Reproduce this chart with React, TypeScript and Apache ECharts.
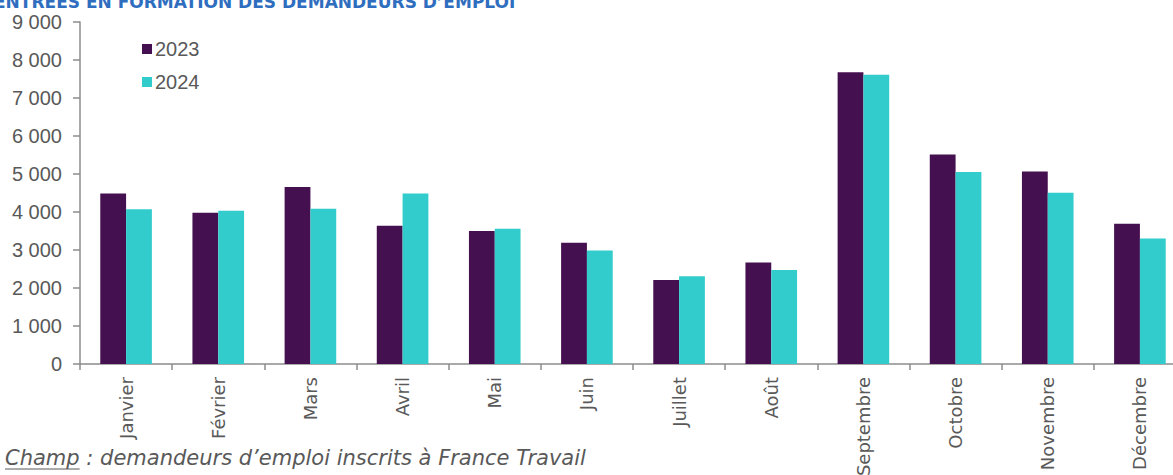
import React, { useEffect, useRef } from "react";
import * as echarts from "echarts";

const categories = [
  "Janvier", "Février", "Mars", "Avril", "Mai", "Juin",
  "Juillet", "Août", "Septembre", "Octobre", "Novembre", "Décembre",
];
const values2023 = [4490, 3980, 4660, 3640, 3500, 3190, 2210, 2670, 7680, 5510, 5065, 3690];
const values2024 = [4070, 4030, 4085, 4490, 3560, 2990, 2310, 2475, 7610, 5055, 4505, 3300];
const seriesNames = ["2023", "2024"];
const yTicks = { min: 0, max: 9000, interval: 1000 };
const titleText = "ENTRÉES EN FORMATION DES DEMANDEURS D’EMPLOI";
const noteLead = "Champ";
const noteRest = " : demandeurs d’emploi inscrits à France Travail";

const PURPLE = "#45104f";
const TEAL = "#33cccc";
const GRAY = "#595959";
const AXIS = "#8c8c8c";

function measure(text: string, font: string): number {
  const c = document.createElement("canvas").getContext("2d");
  if (!c) return text.length * 10;
  c.font = font;
  return c.measureText(text).width;
}

export default function App() {
  const ref = useRef<HTMLDivElement>(null);
  useEffect(() => {
    if (!ref.current) return;
    const chart = echarts.init(ref.current, undefined, { renderer: "svg" });
    const noteFont = "italic 21px 'DejaVu Sans'";
    const leadW = measure(noteLead, noteFont);
    const noteX = 5;
    const noteBase = 468;
    chart.setOption({
      animation: false,
      backgroundColor: "#ffffff",
      grid: {
        left: 80,
        width: 1106,
        top: 22,
        bottom: 111,
        containLabel: false,
        outerBoundsMode: "none",
      },
      legend: {
        orient: "vertical",
        left: 137,
        top: 34,
        itemWidth: 10,
        itemHeight: 10,
        itemGap: 13,
        icon: "rect",
        data: seriesNames,
        textStyle: { color: GRAY, fontSize: 20, fontFamily: "'Liberation Sans', Arial, sans-serif", padding: [0, 0, 0, -2] },
      },
      xAxis: {
        type: "category",
        data: categories,
        axisLine: { lineStyle: { color: AXIS, width: 1.5 } },
        axisTick: { show: true, length: 6, lineStyle: { color: AXIS, width: 1.5 } },
        axisLabel: {
          rotate: 90,
          margin: 13,
          color: GRAY,
          fontSize: 18,
          fontFamily: "'DejaVu Sans', Verdana, sans-serif",
          interval: 0,
        },
      },
      yAxis: {
        type: "value",
        min: yTicks.min,
        max: yTicks.max,
        interval: yTicks.interval,
        splitLine: { show: false },
        axisLine: { show: true, lineStyle: { color: AXIS, width: 1.5 } },
        axisTick: { show: true, length: 7, lineStyle: { color: AXIS, width: 1.5 } },
        axisLabel: {
          margin: 18,
          color: GRAY,
          fontSize: 20,
          fontFamily: "'Liberation Sans', Arial, sans-serif",
          formatter: (v: number) => String(v).replace(/\B(?=(\d{3})+(?!\d))/g, " "),
        },
      },
      series: [
        {
          name: seriesNames[0],
          type: "bar",
          data: values2023,
          barGap: "0%",
          barCategoryGap: "44%",
          itemStyle: { color: PURPLE },
        },
        {
          name: seriesNames[1],
          type: "bar",
          data: values2024,
          barGap: "0%",
          barCategoryGap: "44%",
          itemStyle: { color: TEAL },
        },
      ],
      graphic: [
        {
          type: "text",
          left: -6,
          top: -7,
          style: {
            text: titleText,
            fill: "#2f6ebf",
            font: "bold 17px 'DejaVu Sans'",
          },
        },
        {
          type: "text",
          x: noteX,
          y: noteBase,
          style: {
            text: noteLead + noteRest,
            fill: GRAY,
            font: noteFont,
            verticalAlign: "bottom",
          },
        },
        {
          type: "line",
          shape: { x1: noteX, y1: noteBase + 1, x2: noteX + leadW, y2: noteBase + 1 },
          style: { stroke: GRAY, lineWidth: 1 },
        },
      ],
    });
    return () => chart.dispose();
  }, []);
  return (
    <div
      ref={ref}
      style={{ position: "fixed", left: 0, top: 0, width: 1173, height: 475, overflow: "hidden" }}
    />
  );
}
